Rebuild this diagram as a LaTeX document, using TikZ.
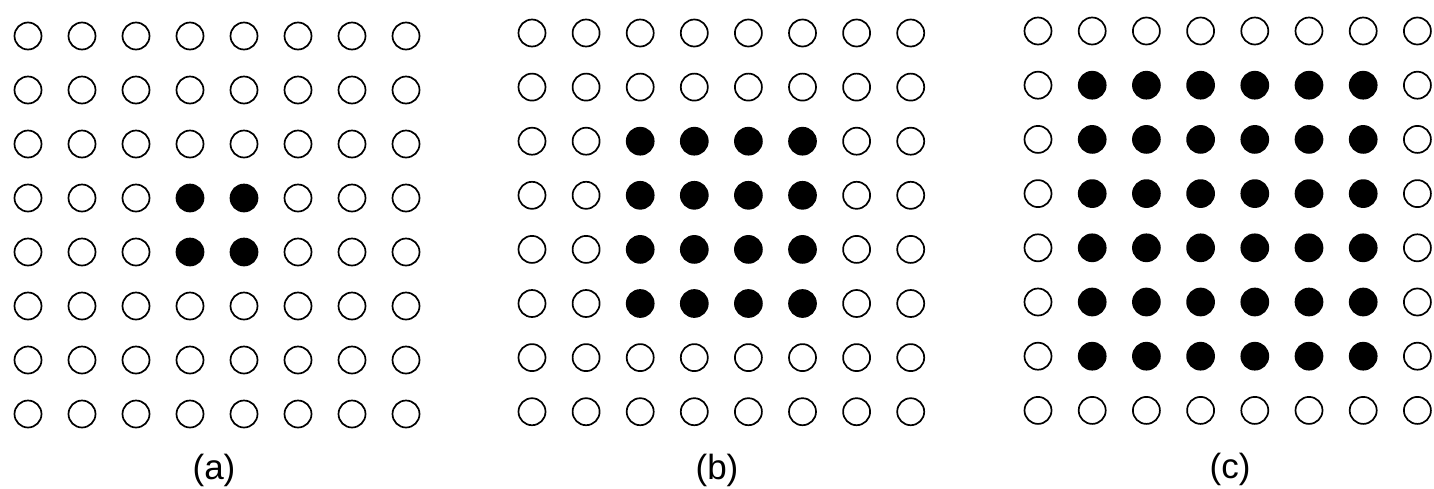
\documentclass[tikz,border=0pt]{standalone}
\usepackage{fontspec}
\setmainfont{Liberation Sans}
\begin{document}
\begin{tikzpicture}[x=1pt,y=-1pt,
  dot/.style={circle,draw=black,line width=1.7pt,minimum size=27pt,inner sep=0pt},
  full/.style={dot,fill=black},
  lab/.style={font=\fontsize{35}{42}\selectfont,inner sep=0pt}]
\useasboundingbox (0,0) rectangle (1434,488);
\foreach \p/\xo/\yo/\dd/\lo/\hi in {a/28/36/54/4/5, b/532/33/54.1/3/6, c/1038/31/54.2/2/7} {
  \foreach \r in {1,...,8} {
    \foreach \c in {1,...,8} {
      \pgfmathtruncatemacro\isin{and(and(\r>=\lo,\r<=\hi),and(\c>=\lo,\c<=\hi))}
      \ifnum\isin=1
        \node[full] (\p-\r-\c) at ({\xo+(\c-1)*\dd},{\yo+(\r-1)*\dd}) {};
      \else
        \node[dot] (\p-\r-\c) at ({\xo+(\c-1)*\dd},{\yo+(\r-1)*\dd}) {};
      \fi
    }
  }
}
\node[lab] (la) at (214,470) {(a)};
\node[lab] (lb) at (717,470) {(b)};
\node[lab] (lc) at (1230,469) {(c)};
\end{tikzpicture}
\end{document}
